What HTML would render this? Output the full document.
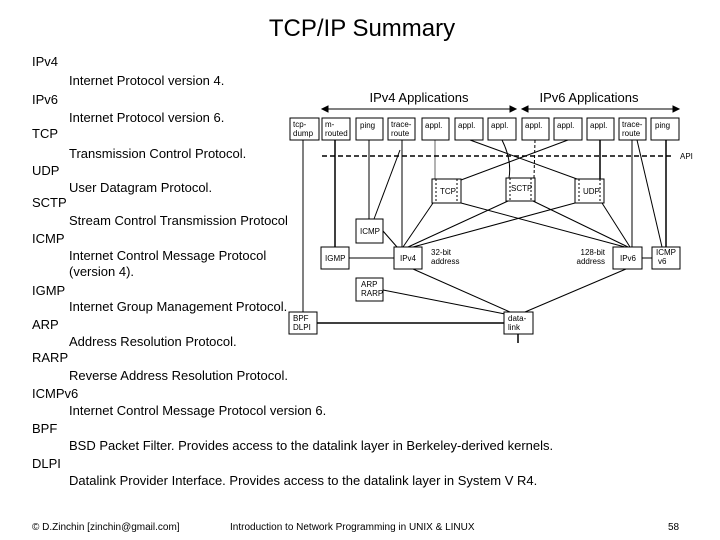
<!DOCTYPE html>
<html><head><meta charset="utf-8"><style>
body{margin:0;width:720px;height:540px;background:#fff;overflow:hidden}
svg{display:block}
text{font-family:"Liberation Sans",sans-serif;fill:#000}
.t{font-size:13px}
.s{font-size:8px}
</style></head><body>
<svg width="720" height="540" viewBox="0 0 720 540">
<text x="362" y="36" font-size="24" text-anchor="middle">TCP/IP Summary</text>
<g class="t">
<text x="32" y="66">IPv4</text><text x="69" y="85">Internet Protocol version 4.</text>
<text x="32" y="104">IPv6</text><text x="69" y="122">Internet Protocol version 6.</text>
<text x="32" y="138">TCP</text><text x="69" y="158">Transmission Control Protocol.</text>
<text x="32" y="175">UDP</text><text x="69" y="192">User Datagram Protocol.</text>
<text x="32" y="207">SCTP</text><text x="69" y="225">Stream Control Transmission Protocol</text>
<text x="32" y="243">ICMP</text><text x="69" y="260">Internet Control Message Protocol</text><text x="69" y="276">(version 4).</text>
<text x="32" y="295">IGMP</text><text x="69" y="311">Internet Group Management Protocol.</text>
<text x="32" y="329">ARP</text><text x="69" y="346">Address Resolution Protocol.</text>
<text x="32" y="362">RARP</text><text x="69" y="380">Reverse Address Resolution Protocol.</text>
<text x="32" y="398">ICMPv6</text><text x="69" y="415">Internet Control Message Protocol version 6.</text>
<text x="32" y="433">BPF</text><text x="69" y="450">BSD Packet Filter. Provides access to the datalink layer in Berkeley-derived kernels.</text>
<text x="32" y="468">DLPI</text><text x="69" y="485">Datalink Provider Interface. Provides access to the datalink layer in System V R4.</text>
</g>
<g font-size="10">
<text x="32" y="530">© D.Zinchin [zinchin@gmail.com]</text>
<text x="230" y="530">Introduction to Network Programming in UNIX &amp; LINUX</text>
<text x="668" y="530">58</text>
</g>
<text x="419" y="102" font-size="13" text-anchor="middle">IPv4 Applications</text>
<text x="589" y="102" font-size="13" text-anchor="middle">IPv6 Applications</text>
<g stroke="#000" stroke-width="1" fill="#000">
<line x1="326" y1="109" x2="512" y2="109"/><polygon points="322,109 328,106 328,112"/><polygon points="516,109 510,106 510,112"/>
<line x1="526" y1="109" x2="675" y2="109"/><polygon points="522,109 528,106 528,112"/><polygon points="679,109 673,106 673,112"/>
</g>
<line x1="322" y1="156" x2="672" y2="156" stroke="#000" stroke-width="1.5" stroke-dasharray="5,3"/>
<text x="680" y="159" class="s">API</text>
<g stroke="#000" stroke-width="1" fill="none">
<line x1="303" y1="140" x2="303" y2="312"/>
<line x1="335" y1="140" x2="335" y2="247" stroke-width="1.5"/>
<line x1="369" y1="140" x2="369" y2="219"/>
<line x1="402" y1="140" x2="402" y2="247"/>
<line x1="400" y1="150" x2="374" y2="219"/>
<line x1="435" y1="140" x2="435" y2="179" stroke-width="0.6"/>
<line x1="470" y1="140" x2="577" y2="179"/>
<line x1="568" y1="140" x2="461" y2="180"/>
<path d="M502 140 Q512 160 509 178"/>
<line x1="535" y1="140" x2="534" y2="178" stroke-dasharray="3,2"/>
<line x1="600" y1="140" x2="600" y2="179" stroke-width="1.5"/>
<line x1="632" y1="140" x2="632" y2="247"/>
<line x1="637" y1="140" x2="662" y2="247"/>
<line x1="666" y1="140" x2="666" y2="247" stroke-width="1.5"/>
<line x1="433" y1="203" x2="403" y2="247"/>
<line x1="461" y1="203" x2="625" y2="247"/>
<line x1="508" y1="201" x2="408" y2="247"/>
<line x1="533" y1="201" x2="628" y2="247"/>
<line x1="575" y1="203" x2="413" y2="247"/>
<line x1="602" y1="203" x2="630" y2="247"/>
<line x1="383" y1="231" x2="397" y2="247"/>
<line x1="349" y1="258" x2="394" y2="258"/>
<line x1="642" y1="258" x2="652" y2="258"/>
<line x1="413" y1="269" x2="510" y2="312"/>
<line x1="383" y1="290" x2="505" y2="314"/>
<line x1="626" y1="269" x2="525" y2="312"/>
<line x1="317" y1="323" x2="504" y2="323" stroke-width="1.5"/>
<line x1="518" y1="334" x2="518" y2="343" stroke-width="1.5"/>
</g>
<g stroke="#000" stroke-width="1" fill="#fff">
<rect x="290" y="118" width="29" height="22"/><rect x="322" y="118" width="28" height="22"/>
<rect x="356" y="118" width="27" height="22"/><rect x="388" y="118" width="27" height="22"/>
<rect x="422" y="118" width="27" height="22"/><rect x="455" y="118" width="28" height="22"/>
<rect x="488" y="118" width="28" height="22"/><rect x="522" y="118" width="27" height="22"/>
<rect x="554" y="118" width="28" height="22"/><rect x="587" y="118" width="27" height="22"/>
<rect x="619" y="118" width="27" height="22"/><rect x="651" y="118" width="28" height="22"/>
<rect x="432" y="179" width="29" height="24"/><rect x="506" y="178" width="29" height="23"/><rect x="575" y="179" width="29" height="24"/>
<rect x="356" y="219" width="27" height="24"/>
<rect x="321" y="247" width="28" height="22"/><rect x="394" y="247" width="28" height="22"/>
<rect x="613" y="247" width="29" height="22"/><rect x="652" y="247" width="28" height="22"/>
<rect x="356" y="278" width="27" height="23"/>
<rect x="289" y="312" width="28" height="22"/><rect x="504" y="312" width="29" height="22"/>
</g>
<g stroke="#000" stroke-width="1" stroke-dasharray="2,2">
<line x1="436" y1="179" x2="436" y2="203"/><line x1="457" y1="179" x2="457" y2="203"/>
<line x1="510" y1="178" x2="510" y2="201"/><line x1="531" y1="178" x2="531" y2="201"/>
<line x1="579" y1="179" x2="579" y2="203"/><line x1="600" y1="179" x2="600" y2="203"/>
</g>
<g class="s">
<text x="293" y="127">tcp-</text><text x="293" y="136">dump</text>
<text x="325" y="127">m-</text><text x="325" y="136">routed</text>
<text x="360" y="128">ping</text>
<text x="391" y="127">trace-</text><text x="391" y="136">route</text>
<text x="425" y="128">appl.</text><text x="458" y="128">appl.</text><text x="491" y="128">appl.</text>
<text x="525" y="128">appl.</text><text x="557" y="128">appl.</text><text x="590" y="128">appl.</text>
<text x="622" y="127">trace-</text><text x="622" y="136">route</text>
<text x="655" y="128">ping</text>
<text x="440" y="194">TCP</text><text x="511" y="191">SCTP</text><text x="583" y="194">UDP</text>
<text x="360" y="234">ICMP</text>
<text x="325" y="261">IGMP</text><text x="400" y="261">IPv4</text>
<text x="620" y="261">IPv6</text><text x="656" y="255">ICMP</text><text x="658" y="264">v6</text>
<text x="431" y="255">32-bit</text><text x="431" y="264">address</text>
<text x="605" y="255" text-anchor="end">128-bit</text><text x="605" y="264" text-anchor="end">address</text>
<text x="361" y="287">ARP</text><text x="361" y="296">RARP</text>
<text x="293" y="321">BPF</text><text x="293" y="330">DLPI</text>
<text x="508" y="321">data-</text><text x="508" y="330">link</text>
</g>
</svg>
</body></html>
